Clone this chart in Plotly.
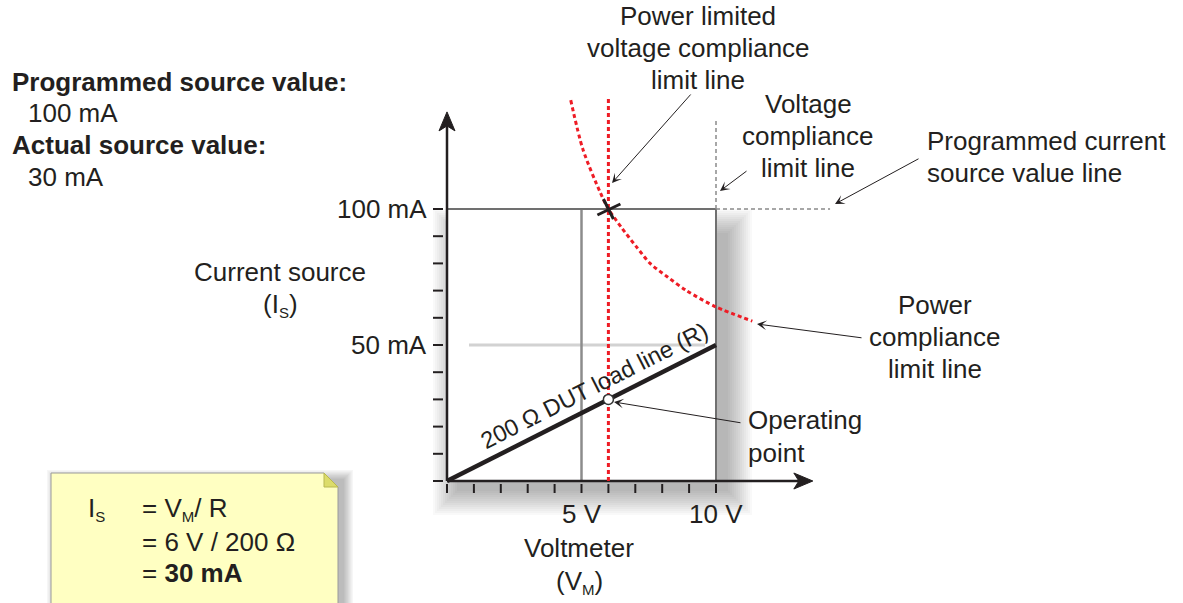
import plotly.graph_objects as go

W, H = 1183, 603

# ---- data -------------------------------------------------------------
volt_ticks = [0, 1, 2, 3, 4, 5, 6, 7, 8, 9, 10]            # V
curr_ticks = [0, 10, 20, 30, 40, 50, 60, 70, 80, 90, 100]  # mA
volt_labels = {5: "5 V", 10: "10 V"}
curr_labels = {50: "50 mA", 100: "100 mA"}

programmed_current = 100      # mA
voltage_limit = 10            # V
power_limited_voltage = 6     # V
half_scale_current = 50       # mA
mid_scale_voltage = 5         # V

load_v = [0, 10]              # 200 ohm DUT load line
load_i = [0, 50]
op_v, op_i = 6, 30            # operating point

power_v = [4.6, 5.05, 5.7, 6.0, 6.5, 7.05, 7.55, 8.2, 8.9, 10.0, 11.35]
power_i = [140, 122, 106, 100, 93, 86, 80, 75, 70, 64, 58.8]

x_axis_end = 13.6             # V (arrow tip)
y_axis_end = 135.7            # mA (arrow tip)
red_line_top = 141            # mA
voltage_limit_top = 132.7     # mA
prog_line_end = 14.24         # V

# ---- drawing scale (pixels per unit, origin position) -----------------
OX, OY = 447, 481
PX_V, PX_MA = 26.9, 2.72


def xv(px):
    return (px - OX) / PX_V


def yv(py):
    return (OY - py) / PX_MA


def dx(p):
    return p / PX_V


def dy(p):
    return p / PX_MA


INK = "#231f20"
FONT = "Liberation Sans, Arial, Helvetica, sans-serif"
FS = 26


def sub(s):
    return f"<sub><span style='font-size:15px'>{s}</span></sub>"


fig = go.Figure()
shapes = []
annotations = []


def soft_shadow(x0, y0, x1, y1, steps, spread, alpha):
    for k in range(steps):
        e = spread * (k + 1) / steps
        shapes.append(dict(type="rect", xref="x", yref="y",
                           x0=x0 - dx(e), x1=x1 + dx(e),
                           y0=y0 - dy(e), y1=y1 + dy(e),
                           fillcolor=f"rgba(0,0,0,{alpha})",
                           line=dict(width=0), layer="below"))


def seg(x0, y0, x1, y1, color, width, dash="solid", layer="below"):
    shapes.append(dict(type="line", xref="x", yref="y", x0=x0, y0=y0,
                       x1=x1, y1=y1, layer=layer,
                       line=dict(color=color, width=width, dash=dash)))


def label(px, py, s, anchor="center", size=FS):
    annotations.append(dict(x=px / W, y=1 - py / H, xref="paper", yref="paper",
                            text=s, showarrow=False, xanchor=anchor,
                            yanchor="middle",
                            font=dict(family=FONT, size=size, color=INK)))


def pointer(tail, tip):
    annotations.append(dict(x=tip[0], y=tip[1], ax=tail[0], ay=tail[1],
                            xref="x", yref="y", axref="x", ayref="y",
                            text="", showarrow=True, arrowhead=3,
                            arrowsize=1.6, arrowwidth=1, standoff=0,
                            startstandoff=0, arrowcolor=INK))


# ---- shadow + white panel behind the operating box ---------------------
soft_shadow(dx(12), -dy(8), voltage_limit + dx(10), programmed_current - dy(26),
            13, 26, 0.022)
shapes.append(dict(type="rect", xref="x", yref="y", x0=0, x1=voltage_limit,
                   y0=0, y1=programmed_current, fillcolor="white",
                   line=dict(width=0), layer="below"))

# ---- grid / limit lines -----------------------------------------------
seg(xv(469), half_scale_current, xv(705), half_scale_current, "#d2d2d2", 3)
seg(mid_scale_voltage, 0, mid_scale_voltage, programmed_current, "#8c8c8c", 2.5)
seg(0, programmed_current, voltage_limit, programmed_current, "#707070", 2)
seg(voltage_limit, 0, voltage_limit, programmed_current, "#707070", 2)
seg(voltage_limit, programmed_current, voltage_limit, voltage_limit_top,
    "#8a8a8a", 1.5, dash="4px,3px")
seg(voltage_limit, programmed_current, prog_line_end, programmed_current,
    "#8a8a8a", 1.5, dash="4px,3px")

# ---- axes ---------------------------------------------------------------
seg(0, 0, 0, y_axis_end - dy(14), INK, 2.5)
seg(0, 0, x_axis_end - dx(14), 0, INK, 2.5)
tip_y = y_axis_end
shapes.append(dict(type="path", xref="x", yref="y", layer="below",
                   path=(f"M 0,{tip_y} L {dx(-8)},{tip_y - dy(19)} "
                         f"L 0,{tip_y - dy(14)} L {dx(8)},{tip_y - dy(19)} Z"),
                   fillcolor=INK, line=dict(color=INK, width=1)))
tip_x = x_axis_end
shapes.append(dict(type="path", xref="x", yref="y", layer="below",
                   path=(f"M {tip_x},0 L {tip_x - dx(19)},{dy(8)} "
                         f"L {tip_x - dx(14)},0 L {tip_x - dx(19)},{-dy(8)} Z"),
                   fillcolor=INK, line=dict(color=INK, width=1)))

for v in volt_ticks:
    seg(v, -dy(3), v, -dy(12), INK, 2)
for i in curr_ticks:
    seg(-dx(14), i, -dx(4), i, INK, 2)

for v, s in volt_labels.items():
    annotations.append(dict(x=v, y=-dy(33), xref="x", yref="y", text=s,
                            showarrow=False, xanchor="center", yanchor="middle",
                            font=dict(family=FONT, size=FS, color=INK)))
for i, s in curr_labels.items():
    annotations.append(dict(x=-dx(18), y=i, xref="x", yref="y", text=s,
                            showarrow=False, xanchor="right", yanchor="middle",
                            font=dict(family=FONT, size=FS, color=INK)))

# ---- red compliance limit lines ---------------------------------------
RED = "#ee1c25"
fig.add_trace(go.Scatter(x=[power_limited_voltage, power_limited_voltage],
                         y=[0, red_line_top], mode="lines",
                         line=dict(color=RED, width=3, dash="4px,3px"),
                         hoverinfo="skip"))
fig.add_trace(go.Scatter(x=power_v, y=power_i, mode="lines",
                         line=dict(color=RED, width=3, dash="4px,3px",
                                   shape="spline", smoothing=0.8),
                         hoverinfo="skip"))

# ---- DUT load line and operating point ---------------------------------
fig.add_trace(go.Scatter(x=load_v, y=load_i, mode="lines",
                         line=dict(color=INK, width=4.5), hoverinfo="skip"))
fig.add_trace(go.Scatter(x=[op_v], y=[op_i], mode="markers",
                         marker=dict(size=10, color="white",
                                     line=dict(color="#333333", width=1.5)),
                         hoverinfo="skip"))

# cross at the power-limited voltage / programmed current intersection
cx, cy = power_limited_voltage, programmed_current
seg(cx - dx(11), cy - dy(6), cx + dx(12), cy + dy(5), INK, 3, layer="above")
seg(cx - dx(5), cy + dy(10), cx + dx(5), cy - dy(10), INK, 3, layer="above")

annotations.append(dict(x=xv(594), y=yv(386), xref="x", yref="y",
                        text="200 \u03a9 DUT load line (R)", showarrow=False,
                        textangle=-26.8, xanchor="center", yanchor="middle",
                        font=dict(family=FONT, size=23.5, color=INK)))

# ---- formula note -----------------------------------------------------
soft_shadow(xv(57), yv(615), xv(343), yv(480), 8, 10, 0.035)
shapes.append(dict(type="path", xref="x", yref="y", layer="below",
                   path=(f"M {xv(51)},{yv(473)} L {xv(324)},{yv(473)} "
                         f"L {xv(338)},{yv(487)} L {xv(338)},{yv(620)} "
                         f"L {xv(51)},{yv(620)} Z"),
                   fillcolor="#ffffc2", line=dict(color="#9a9a9a", width=1)))
shapes.append(dict(type="path", xref="x", yref="y", layer="below",
                   path=(f"M {xv(324)},{yv(473)} L {xv(338)},{yv(487)} "
                         f"L {xv(324)},{yv(487)} Z"),
                   fillcolor="#dcdc6a", line=dict(color="#b8b850", width=1)))

label(86, 509, "I" + sub("S"), "left")
label(140, 509, "= V" + sub("M") + "/ R", "left")
label(140, 542, "= 6 V / 200 \u03a9", "left")
label(140, 573, "= <b>30 mA</b>", "left")

# ---- text blocks --------------------------------------------------------
label(10, 82, "<b>Programmed source value:</b>", "left")
label(26, 113, "100 mA", "left")
label(10, 145, "<b>Actual source value:</b>", "left")
label(26, 177, "30 mA", "left")

label(280, 272, "Current source")
label(280, 305, "(I" + sub("S") + ")")
label(579, 548, "Voltmeter")
label(579, 582, "(V" + sub("M") + ")")

label(698, 16, "Power limited")
label(698, 48, "voltage compliance")
label(698, 80, "limit line")

label(808, 104, "Voltage")
label(808, 136, "compliance")
label(808, 168, "limit line")

label(925, 141, "Programmed current", "left")
label(925, 173, "source value line", "left")

label(935, 305, "Power")
label(935, 337, "compliance")
label(935, 369, "limit line")

label(746, 420, "Operating", "left")
label(746, 453, "point", "left")

# ---- pointer arrows -----------------------------------------------------
pointer((xv(692), yv(93)), (xv(612), yv(183)))
pointer((xv(748), yv(170)), (xv(720), yv(191)))
pointer((xv(920), yv(158)), (xv(835), yv(204)))
pointer((xv(863), yv(338)), (xv(757), yv(324)))
pointer((xv(742), yv(423)), (xv(614), yv(402)))

fig.update_layout(
    width=W, height=H,
    margin=dict(l=0, r=0, t=0, b=0),
    paper_bgcolor="white", plot_bgcolor="white",
    showlegend=False,
    xaxis=dict(range=[xv(0), xv(W)], visible=False, fixedrange=True),
    yaxis=dict(range=[yv(H), yv(0)], visible=False, fixedrange=True),
    shapes=shapes,
    annotations=annotations,
)

fig.write_html("out.html")
